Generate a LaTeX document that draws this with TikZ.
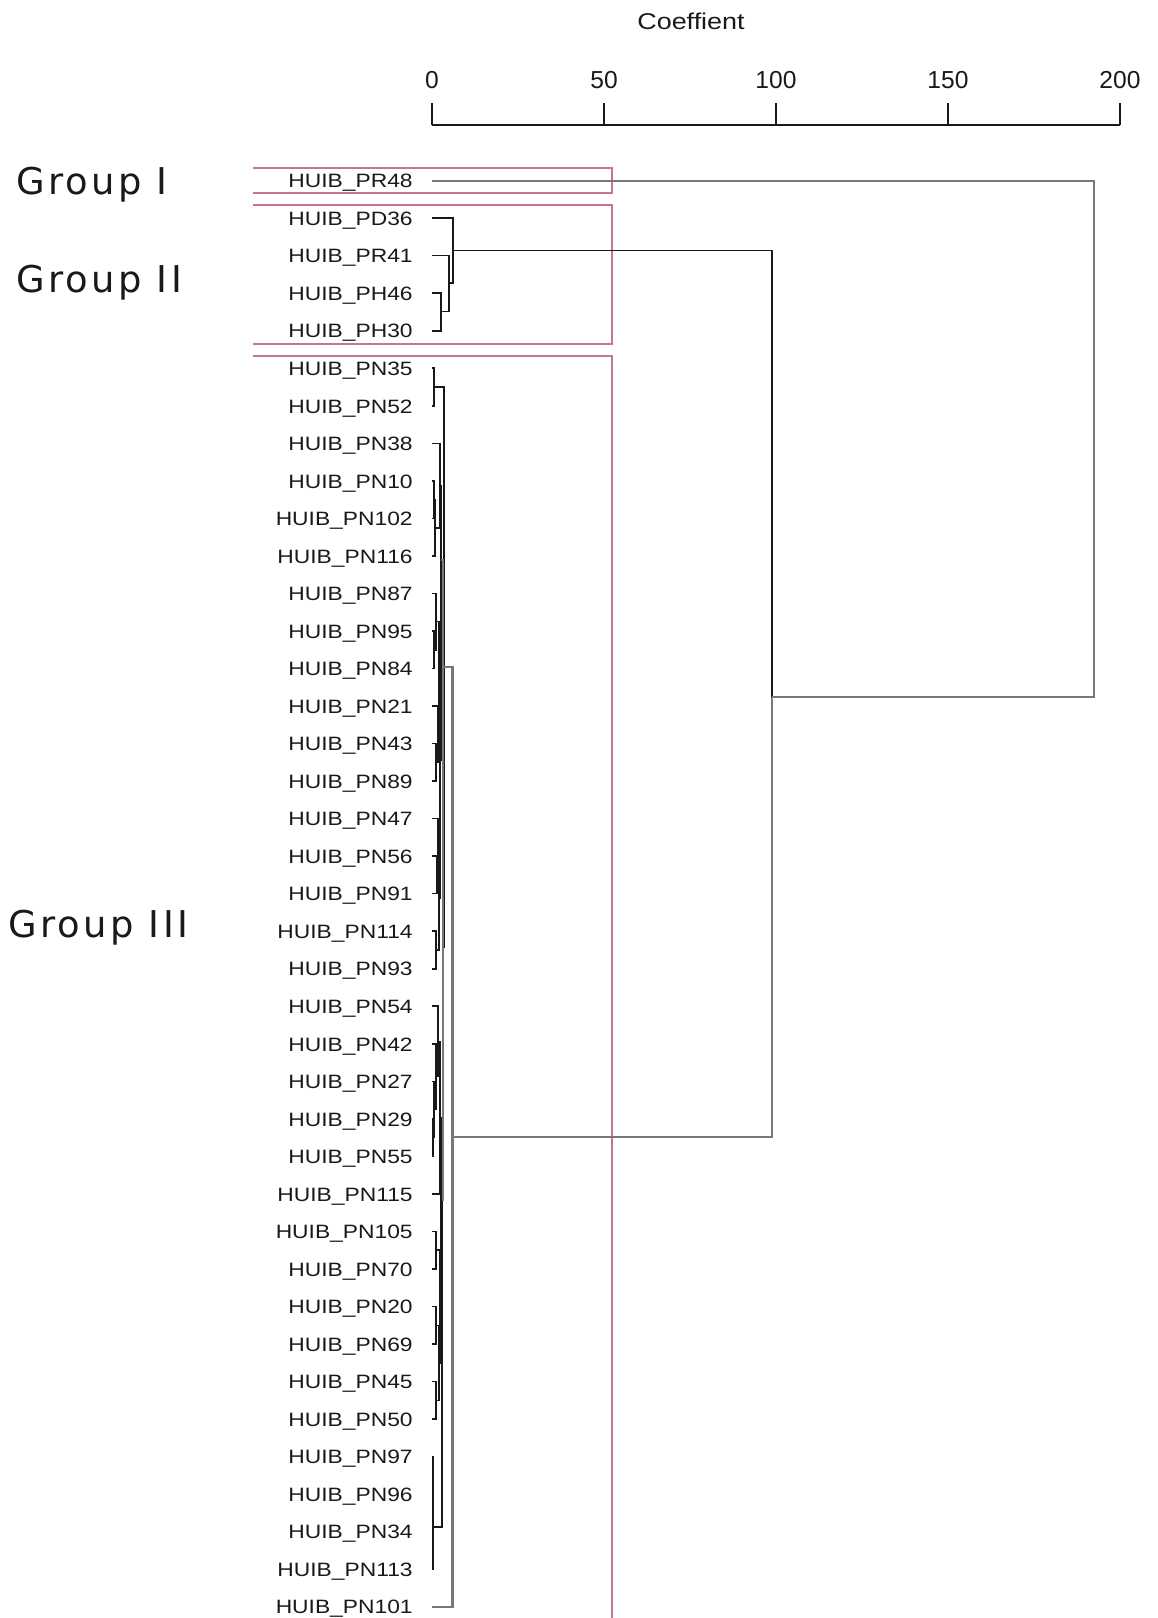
\documentclass[tikz,border=0pt]{standalone}
\usepackage{fontspec}
\setmainfont{Liberation Sans}
\newfontfamily\leaffont[FakeStretch=1.18]{Liberation Sans}
\newfontfamily\groupfont[LetterSpace=9]{DejaVu Sans}
\usepackage{tikz}
\definecolor{boxpink}{RGB}{200,115,145}
\definecolor{linkgray}{RGB}{120,120,120}
\tikzset{
  leaf/.style={anchor=east, inner sep=0pt,
               font=\leaffont\fontsize{11}{13}\selectfont, text=black!90},
  grouplabel/.style={anchor=west, inner sep=0pt,
                     font=\groupfont\fontsize{21}{25}\selectfont, text=black!90},
  ticklabel/.style={inner sep=0pt, font=\fontsize{14}{16}\selectfont, text=black!90},
  lk/.style={draw=black!90, line width=0.9pt},
  lkgray/.style={draw=linkgray, line width=1.2pt},
  groupbox/.style={draw=boxpink, line width=0.8pt},
  axisline/.style={draw=black!90, line width=0.9pt},
}

\begin{document}
\begin{tikzpicture}[x=0.02cm, y=-0.02cm]
  \useasboundingbox (0,0) rectangle (1158,1618);

  % axis
  \node[ticklabel, font=\leaffont\fontsize{13}{15}\selectfont] (axtitle) at (691,21) {Coeffient};
  \draw[axisline] (432,125) -- (1120,125);
  \foreach \v in {0,50,...,200}{
    \draw[axisline] ({432+3.44*\v},125) -- ({432+3.44*\v},103);
    \node[ticklabel] (tk\v) at ({432+3.44*\v},80) {\v};
  }

  % group frames
  \draw[groupbox] (253,168) -- (612,168) -- (612,193) -- (253,193);
  \draw[groupbox] (253,205) -- (612,205) -- (612,344) -- (253,344);
  \draw[groupbox] (253,356) -- (612,356) -- (612,1618);
  \node[grouplabel] (gI) at (16,185) {Group I};
  \node[grouplabel] (gII) at (16,283) {Group II};
  \node[grouplabel] (gIII) at (8,928) {Group III};

  % leaves
  \foreach \lab [count=\i from 0] in {PR48,PD36,PR41,PH46,PH30,PN35,PN52,PN38,PN10,PN102,
      PN116,PN87,PN95,PN84,PN21,PN43,PN89,PN47,PN56,PN91,PN114,PN93,PN54,PN42,PN27,
      PN29,PN55,PN115,PN105,PN70,PN20,PN69,PN45,PN50,PN97,PN96,PN34,PN113,PN101}{
    \node[leaf] (t\i) at (413,{183+37.53*\i}) {HUIB\_\lab};
    \coordinate (l\i) at (432,{180.6+37.53*\i});
  }

  % merge points (height, position)
  \foreach \m/\x/\y in {g2b/441/311.4, g2a/449/283, g2/453/250.6,
      m1/434/387, m2/434/499.6, m3/435/527.8, m4/440/485.6,
      n5/434/649.8, n6/436/621.7, n7/436/762.4, n8/438/734.3, w1/439/678,
      w4/437/875, w3/438/846.9, n11/436/950, w2/439/898.4, w/440/760, v1/441/560,
      r0/433/1137.6, r1/434/1109.5, r2/436/1076.6, r3/438/1041.5, r/440/1117.7,
      s1/436/1250.2, s2/436/1325.3, s3/436/1400.3, s4/439/1362.8, s/440/1306.5,
      q1/441/1147, c1/432.5/1512.9, c2/432.8/1484.8, q2/433/1527, v2/442/1200,
      v/443/947, a/444/667, g3/452.5/1137, n23/772/697, root/1094/440}
    \coordinate (\m) at (\x,\y);

  % clusters
  \foreach \m/\a/\b in {g2b/l3/l4, g2a/l2/g2b, g2/l1/g2a,
      m1/l5/l6, m2/l8/l9, m3/m2/l10, m4/l7/m3,
      n5/l12/l13, n6/l11/n5, n7/l15/l16, n8/l14/n7, w1/n6/n8,
      w4/l18/l19, w3/l17/w4, n11/l20/l21, w2/w3/n11, w/w1/w2, v1/m4/w,
      r0/l25/l26, r1/l24/r0, r2/l23/r1, r3/l22/r2, r/r3/l27,
      s1/l28/l29, s2/l30/l31, s3/l32/l33, s4/s2/s3, s/s1/s4,
      q1/r/s, c1/l35/l36, c2/l34/c1, q2/c2/l37, v2/q1/q2, a/m1/v}
    \draw[lk] (\a) -| (\m) |- (\b);
  \draw[lkgray, line width=1pt] (v1) -| (v) |- (v2);
  \draw[lkgray] (a) -| (g3) |- (l38);
  \draw[lk] (g2) -| (n23);
  \draw[lkgray] (n23) |- (g3);
  \draw[lkgray] (l0) -| (root) |- (n23);
\end{tikzpicture}
\end{document}
